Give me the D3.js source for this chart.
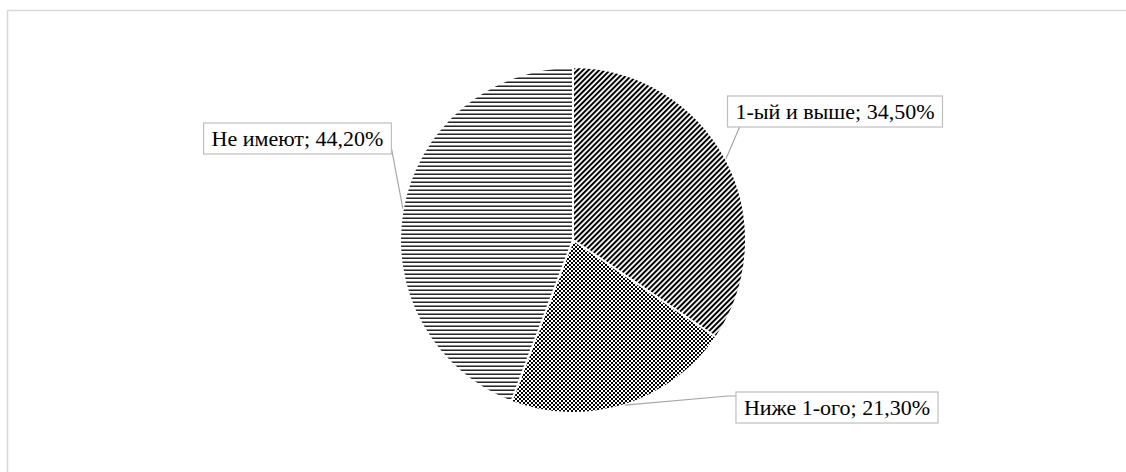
<!DOCTYPE html>
<html><head><meta charset="utf-8">
<script src="https://cdn.jsdelivr.net/npm/d3@7/dist/d3.min.js"></script>
<style>html,body{margin:0;padding:0;background:#fff;}</style>
</head><body>
<svg id="c" width="1126" height="472"></svg>
<script>
const categories = ["1-ый и выше", "Ниже 1-ого", "Не имеют"];
const values = [34.5, 21.3, 44.2];
const valueLabels = ["34,50%", "21,30%", "44,20%"];

const svg = d3.select("#c");
const cx = 573, cy = 240, r = 173;

svg.append("rect").attr("x", 7.5).attr("y", 10.5).attr("width", 1140).attr("height", 480)
  .attr("fill", "#fff").attr("stroke", "#d9d9d9").attr("stroke-width", 1.5);

const defs = svg.append("defs");
// diagonal
const p1 = defs.append("pattern").attr("id", "diag").attr("patternUnits", "userSpaceOnUse")
  .attr("width", 3.8).attr("height", 3.8).attr("patternTransform", "rotate(45)");
p1.append("rect").attr("width", 3.8).attr("height", 3.8).attr("fill", "#fff");
p1.append("rect").attr("width", 2).attr("height", 3.8).attr("fill", "#000");
// checker
const p2 = defs.append("pattern").attr("id", "check").attr("patternUnits", "userSpaceOnUse")
  .attr("width", 4).attr("height", 4);
p2.append("rect").attr("width", 4).attr("height", 4).attr("fill", "#fff").attr("shape-rendering", "crispEdges");
p2.append("rect").attr("width", 2).attr("height", 2).attr("fill", "#000").attr("shape-rendering", "crispEdges");
p2.append("rect").attr("x", 2).attr("y", 2).attr("width", 2).attr("height", 2).attr("fill", "#000").attr("shape-rendering", "crispEdges");
// horizontal
const p3 = defs.append("pattern").attr("id", "horiz").attr("patternUnits", "userSpaceOnUse")
  .attr("width", 4).attr("height", 4);
p3.append("rect").attr("width", 4).attr("height", 4).attr("fill", "#fff");
p3.append("rect").attr("y", 1.5).attr("width", 4).attr("height", 1.4).attr("fill", "#111");

const fills = ["url(#diag)", "url(#check)", "url(#horiz)"];

const pie = d3.pie().sort(null).value(d => d)(values);
const arc = d3.arc().innerRadius(0).outerRadius(r);
const g = svg.append("g").attr("transform", `translate(${cx},${cy})`);
g.selectAll("path").data(pie).join("path")
  .attr("d", arc).attr("fill", (d, i) => fills[i])
  .attr("stroke", "#fff").attr("stroke-width", 2).attr("stroke-linejoin", "round");

// labels
const boxes = [
  {cx: 835, cy: 111, anchor: [[740, 126]]},
  {cx: 837, cy: 407, anchor: [[728, 396], [738, 396]]},
  {cx: 297.5, cy: 138, anchor: [[391, 146]]}
];
const lab = svg.append("g");
pie.forEach((d, i) => {
  const a = (d.startAngle + d.endAngle) / 2;
  const px = cx + r * Math.sin(a), py = cy - r * Math.cos(a);
  const pts = [[px, py], ...boxes[i].anchor];
  lab.append("path").attr("d", d3.line()(pts)).attr("fill", "none")
    .attr("stroke", "#a6a6a6").attr("stroke-width", 1.2);
});
pie.forEach((d, i) => {
  const b = boxes[i];
  const gg = lab.append("g");
  const rect = gg.append("rect");
  const t = gg.append("text").attr("x", b.cx).attr("y", b.cy + 7.5)
    .attr("text-anchor", "middle").attr("font-family", "'Liberation Serif','Times New Roman',serif")
    .attr("font-size", 22).attr("fill", "#000")
    .text(categories[i] + "; " + valueLabels[i]);
  const w = t.node().getComputedTextLength() + 16;
  rect.attr("x", b.cx - w / 2).attr("y", b.cy - 15).attr("width", w).attr("height", 31)
    .attr("fill", "#fff").attr("stroke", "#bfbfbf").attr("stroke-width", 1.2);
});
</script>
</body></html>
